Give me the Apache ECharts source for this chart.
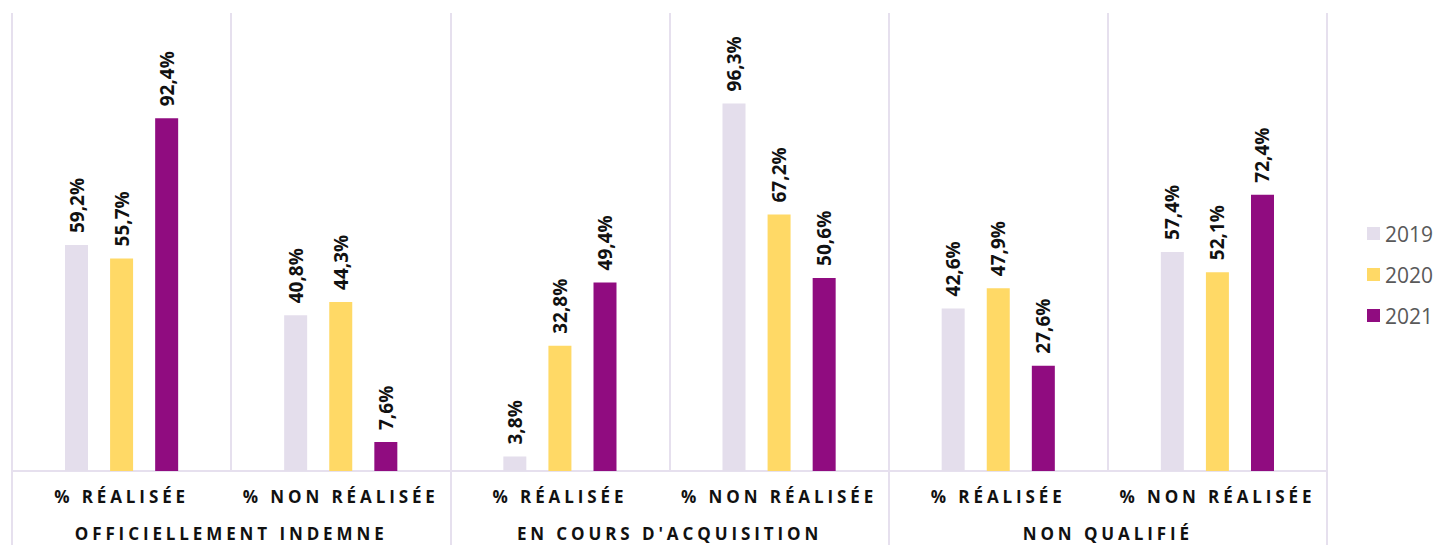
<!DOCTYPE html>
<html><head><meta charset="utf-8">
<script src="https://cdn.jsdelivr.net/npm/echarts@6/dist/echarts.min.js"></script>
<style>
html,body{margin:0;padding:0;background:#fff;}
#c{width:1437px;height:545px;}
#c text[style*="Lato"], #c text[font-family*="Lato"]{letter-spacing:3.9px;}
</style></head><body>
<div id="c"></div>
<script>
const categories = ['% RÉALISÉE','% NON RÉALISÉE','% RÉALISÉE','% NON RÉALISÉE','% RÉALISÉE','% NON RÉALISÉE'];
const groups = ['OFFICIELLEMENT INDEMNE',"EN COURS D'ACQUISITION",'NON QUALIFIÉ'];
const years = ['2019','2020','2021'];
const v2019 = [59.2, 40.8, 3.8, 96.3, 42.6, 57.4];
const v2020 = [55.7, 44.3, 32.8, 67.2, 47.9, 52.1];
const v2021 = [92.4, 7.6, 49.4, 50.6, 27.6, 72.4];
const colors = ['#e4deec','#ffd966','#900c80'];
const lineColor = '#e6e0ee';
const axisFont = "'Open Sans', Lato, sans-serif";

const chart = echarts.init(document.getElementById('c'), null, {renderer:'svg'});
const grid = {left:12, right:110, top:13, bottom:74};
function mk(name, data, i){
  return {
    name, type:'bar', data, barWidth:23, barGap:'96%',
    itemStyle:{color:colors[i]},
    label:{show:true, position:'top', rotate:90, align:'left', verticalAlign:'middle', distance:12,
      fontFamily:"'Open Sans', sans-serif", fontWeight:'bold', fontSize:19, color:'#111',
      formatter:p=>p.value.toFixed(1).replace('.',',')+'%'}
  };
}
chart.setOption({
  animation:false,
  legend:{orient:'vertical', left:1362, top:218, itemWidth:13, itemHeight:13, itemGap:20, icon:'rect',
    data:years, textStyle:{fontFamily:"'Open Sans', sans-serif", fontSize:21, color:'#595959'}},
  grid:[grid, Object.assign({}, grid)],
  xAxis:[
    {type:'category', gridIndex:0, data:categories,
      axisLine:{lineStyle:{color:lineColor, width:2}}, axisTick:{show:false},
      splitLine:{show:true, interval:0, lineStyle:{color:lineColor, width:2}},
      axisLabel:{interval:0, margin:17, fontFamily:axisFont, fontWeight:'bold', fontSize:17, color:'#111'}},
    {type:'category', gridIndex:1, data:groups, position:'bottom',
      axisLine:{show:false},
      axisTick:{show:true, interval:0, length:76, lineStyle:{color:lineColor, width:2}},
      splitLine:{show:false},
      axisLabel:{interval:0, margin:54, fontFamily:axisFont, fontWeight:'bold', fontSize:17, color:'#111'}}
  ],
  yAxis:[
    {type:'value', gridIndex:0, min:0, max:120, show:false, splitLine:{show:false}},
    {type:'value', gridIndex:1, min:0, max:120, show:false, splitLine:{show:false}}
  ],
  series:[mk('2019', v2019, 0), mk('2020', v2020, 1), mk('2021', v2021, 2)]
});
</script>
</body></html>
